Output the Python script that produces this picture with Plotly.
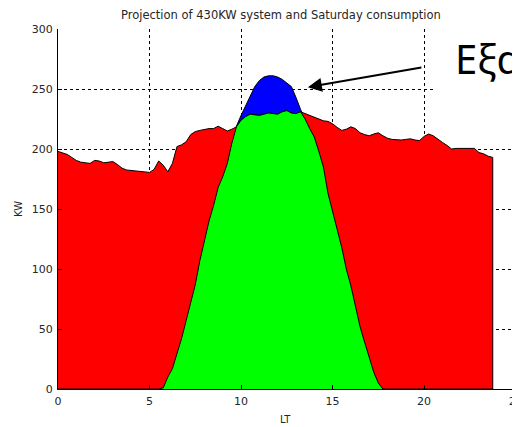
import numpy as np
import plotly.graph_objects as go

# time of day (hours), 15-minute steps
hours = [i * 0.25 for i in range(96)]

# Saturday consumption (KW)
consumption = [
    198, 197, 195.5, 193, 190.5, 189, 188.5, 188, 190.5, 190, 188.5, 189,
    189.5, 187, 184, 182.5, 182, 181.5, 181, 180.5, 180.5, 183, 190, 186.5,
    181, 188, 202, 203.5, 206, 212, 214.5, 215.5, 216.5, 217, 217, 219,
    217, 215, 216.5, 218.5, 224, 227, 229, 228.5, 228, 229, 230, 229.5,
    229, 231, 232, 230, 229.5, 231, 229.5, 228, 226, 224.5, 223.5, 223,
    221, 218, 215.5, 216.5, 218.5, 217, 213.5, 212, 211, 212.5, 213.5, 211,
    209, 208, 207.5, 207.5, 208, 208.5, 207.5, 207, 210.5, 212.5, 211, 208,
    205.5, 203, 200, 200.5, 200.5, 200.5, 200.5, 200.5, 197, 196, 194, 193,
]

# projected production of the 430KW PV system (KW)
pv = [
    0, 0, 0, 0, 0, 0, 0, 0, 0, 0, 0, 0,
    0, 0, 0, 0, 0, 0, 0, 0, 0, 0, 0, 1,
    10, 17, 29, 42, 57, 71, 87, 107, 124, 140, 153, 168,
    177, 188, 205, 219, 228, 236, 245, 252, 257, 260, 261, 261,
    260, 258, 255, 252, 243, 233, 225, 217, 210, 198, 185, 163,
    149, 133, 118, 100, 86, 69, 52, 39, 26, 14, 5, 0,
    0, 0, 0, 0, 0, 0, 0, 0, 0, 0, 0, 0,
    0, 0, 0, 0, 0, 0, 0, 0, 0, 0, 0, 0,
]

x_ticks = [0, 5, 10, 15, 20, 25]
y_ticks = [0, 50, 100, 150, 200, 250, 300]

title_text = "Projection of 430KW system and Saturday consumption"
x_label = "LT"
y_label = "KW"
callout_text = "Εξα"

self_used = [min(a, b) for a, b in zip(pv, consumption)]

# close the consumption area down to zero at its last sample
load_x = hours + [hours[-1]]
load_y = consumption + [0]

edge = dict(color="black", width=1)
fig = go.Figure()
fig.add_trace(go.Scatter(x=hours, y=pv, mode="lines", fill="tozeroy",
                         fillcolor="#0000ff", line=edge, showlegend=False))
fig.add_trace(go.Scatter(x=load_x, y=load_y, mode="lines", fill="tozeroy",
                         fillcolor="#ff0000", line=edge, showlegend=False))
fig.add_trace(go.Scatter(x=hours, y=self_used, mode="lines", fill="tozeroy",
                         fillcolor="#00ff00", line=edge, showlegend=False))

FONT = "DejaVu Sans, Liberation Sans, Arial, sans-serif"
tick_font = dict(family=FONT, size=11, color="#262626")
label_font = dict(family=FONT, size=10, color="#262626")
common = dict(showgrid=True, gridcolor="black", gridwidth=1, griddash="3px,3px",
              zeroline=False, showline=True, linecolor="black", linewidth=1,
              ticks="inside", ticklen=4, tickcolor="black", tickfont=tick_font,
              ticklabeloverflow="allow", automargin=False)

fig.update_xaxes(range=[0, 25.02], tickvals=x_ticks, ticklabelstandoff=2, **common)
fig.update_yaxes(range=[0, 300], tickvals=y_ticks, ticklabelstandoff=2, **common)

W, H = 512, 419
L, R, T, B = 50, 4, 21, 38
PW, PH = W - L - R, H - T - B


def px(xp):
    return (xp - 8 - L) / PW


def py(yp):
    return (H - B - (yp - 8)) / PH


fig.update_layout(
    width=W, height=H,
    margin=dict(l=L, r=R, t=T, b=B, autoexpand=False),
    paper_bgcolor="white", plot_bgcolor="white",
    shapes=[dict(type="rect", xref="paper", yref="paper",
                 x0=px(435), x1=1.05, y0=py(97), y1=1.06,
                 fillcolor="white", line=dict(width=0), layer="above")],
    annotations=[
        dict(text=title_text, xref="paper", yref="paper", x=px(281), y=py(15),
             showarrow=False, xanchor="center", yanchor="middle",
             font=dict(family=FONT, size=11.5, color="#262626")),
        dict(text=x_label, xref="paper", yref="paper", x=px(285), y=py(419),
             showarrow=False, xanchor="center", yanchor="middle", font=label_font),
        dict(text=y_label, xref="paper", yref="paper", x=px(18), y=py(209),
             showarrow=False, xanchor="center", yanchor="middle", textangle=-90,
             font=label_font),
        dict(text=callout_text, xref="paper", yref="paper", x=px(453),
             y=py(58), showarrow=False, xanchor="left", yanchor="middle",
             font=dict(family="Noto Sans, Open Sans, sans-serif", size=40, color="black")),
        dict(text="", x=13.65, y=251.5, xref="x", yref="y", showarrow=True,
             ax=115, ay=-20, arrowhead=2, arrowsize=1.4, arrowwidth=2,
             arrowcolor="black", standoff=0),
    ],
)

fig.write_html("out.html")
